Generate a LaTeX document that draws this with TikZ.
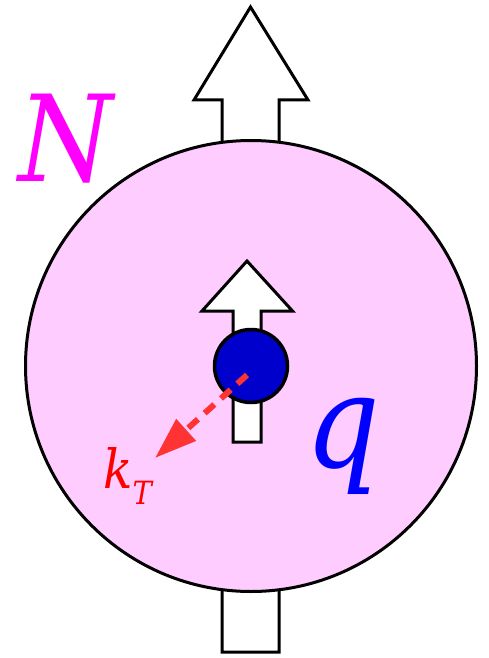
\documentclass[tikz,border=0pt]{standalone}
\usepackage{fontspec}
\setmainfont{DejaVu Serif Condensed}
\usetikzlibrary{arrows.meta}
\definecolor{ballpink}{HTML}{FFCCFF}
\definecolor{dotblue}{HTML}{0000CC}
\definecolor{ktred}{HTML}{FF3333}
\definecolor{nmag}{HTML}{FF00FF}
\definecolor{qblue}{HTML}{0000FF}
\definecolor{kred}{HTML}{FF0000}
\begin{document}
\begin{tikzpicture}[x=1pt,y=-1pt,
  outline/.style={draw=black,line width=3pt,line join=miter,fill=white},
  label/.style={anchor=base west,inner sep=0pt}]
\useasboundingbox (0,0) rectangle (488,658);
\fill[white] (0,0) rectangle (488,658);
% big spin arrow (behind nucleon)
\draw[outline] (222,652) -- (279,652) -- (279,100) -- (308,100) -- (250.5,7) -- (194,100) -- (222,100) -- cycle;
% nucleon
\node[circle,draw=black,line width=3pt,fill=ballpink,minimum size=451pt,inner sep=0pt] (nucleon) at (251,366) {};
% quark spin arrow
\draw[outline] (233,442) -- (261,442) -- (261,311) -- (292.5,311) -- (247,261) -- (202,311) -- (233,311) -- cycle;
% quark
\node[circle,draw=black,line width=3.5pt,fill=dotblue,minimum size=73pt,inner sep=0pt] (quark) at (251,366) {};
% transverse momentum arrow
\coordinate (kt) at (155,458);
\draw[ktred,line width=6pt,dash pattern=on 13pt off 9pt,-{Triangle[length=42pt,width=28pt]}] ([shift={(-4,9)}]quark.center) -- (kt);
% labels
\node[label,text=nmag,font=\fontsize{120}{120}\selectfont\itshape] (N) at (18,181) {N};
\node[label,text=qblue,font=\fontsize{130}{130}\selectfont\itshape] (q) at (305,467) {q};
\node[label,text=kred,font=\fontsize{54}{54}\selectfont\itshape] (kT) at (103,488) {k\raisebox{-16pt}{\fontsize{32}{32}\selectfont T}};
\end{tikzpicture}
\end{document}
